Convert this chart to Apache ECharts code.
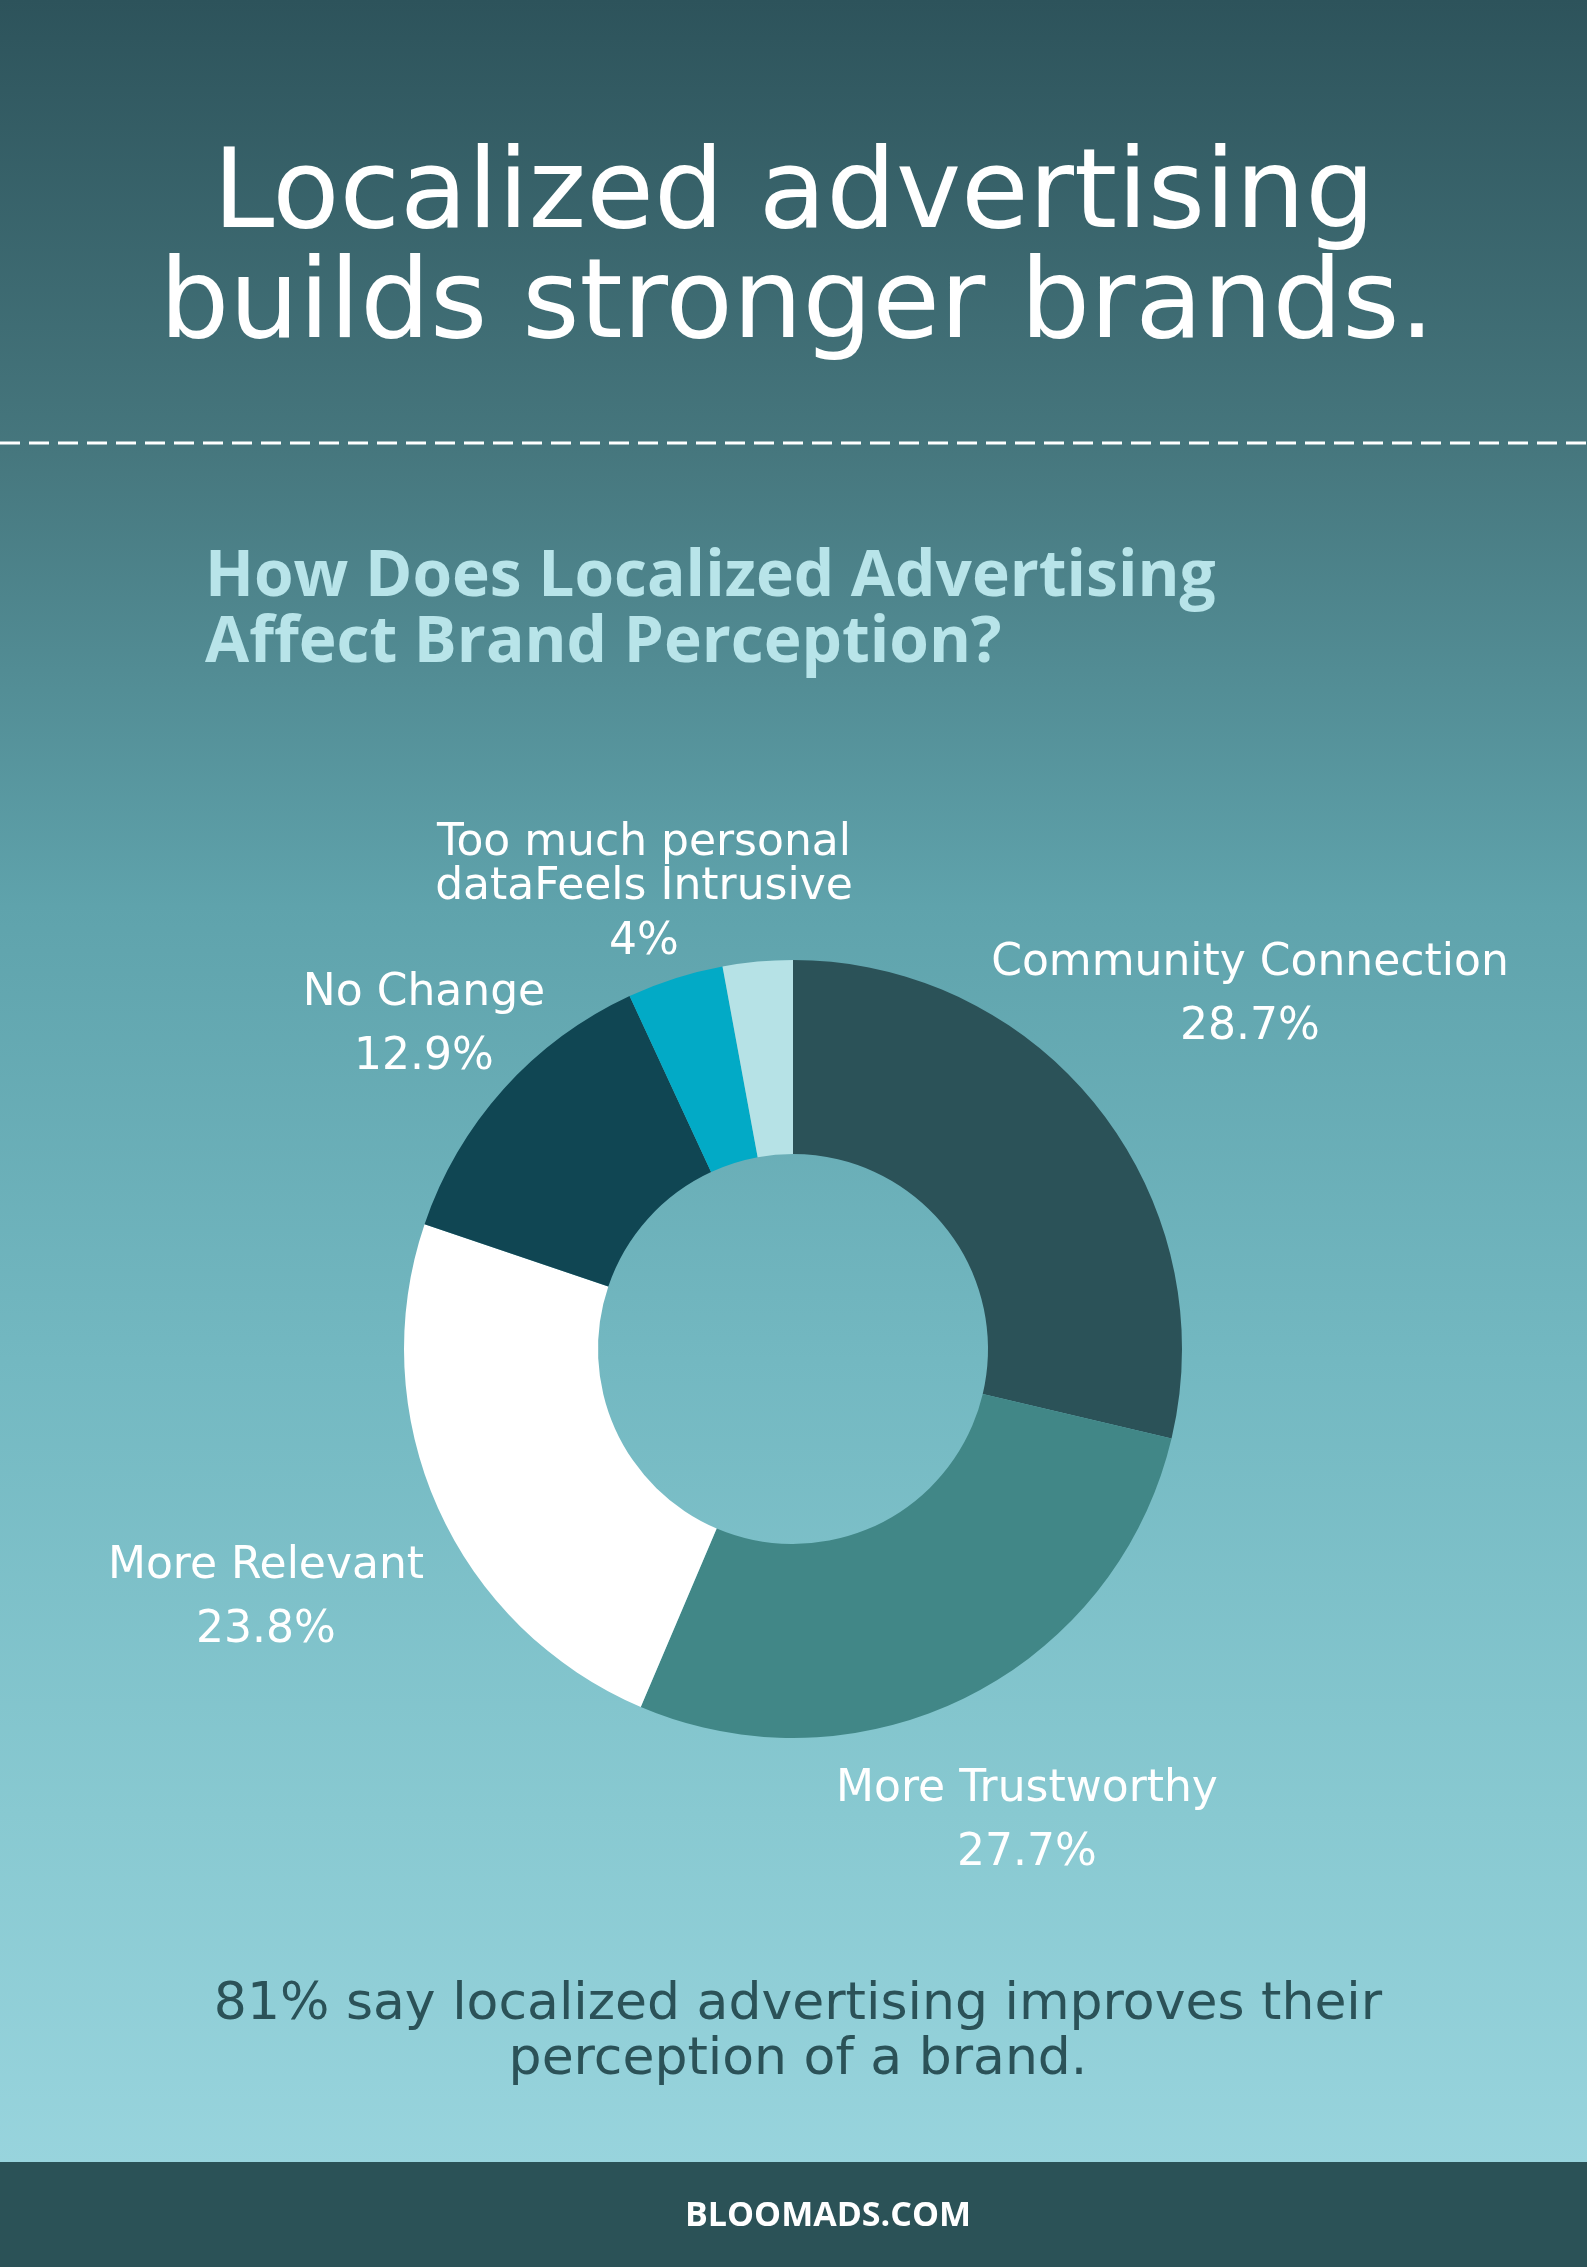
<!DOCTYPE html>
<html>
<head>
<meta charset="utf-8">
<script src="https://cdn.jsdelivr.net/npm/echarts@6/dist/echarts.min.js"></script>
<style>
  html, body { margin: 0; padding: 0; }
  #chart { width: 1587px; height: 2267px; }
</style>
</head>
<body>
<div id="chart"></div>
<script>
// ---- data ----
const headline = ['Localized advertising', 'builds stronger brands.'];
const subtitle = ['How Does Localized Advertising', 'Affect Brand Perception?'];
const categories = ['Community Connection', 'More Trustworthy', 'More Relevant', 'No Change', 'Too much personal\ndataFeels Intrusive', 'Other'];
const values = [28.7, 27.7, 23.8, 12.9, 4, 2.9];
const showLabel = [true, true, true, true, true, false];
const footnote = ['81% say localized advertising improves their', 'perception of a brand.'];
const footer = 'BLOOMADS.COM';

// ---- styles ----
const sliceColors = ['#2b5258', '#418787', '#ffffff', '#104653', '#02aac6', '#b6e2e6'];
const labelPos = [[1250, 932], [1027, 1758], [266, 1535], [424, 962], [644, 822], [0, 0]];
const LABEL_FONT = 'DejaVu Sans';
const LABEL_SIZE = 44;

const chart = echarts.init(document.getElementById('chart'), null, { renderer: 'canvas' });

const pieData = categories.map((c, i) => {
  const item = { name: c, value: values[i], itemStyle: { color: sliceColors[i] } };
  if (!showLabel[i]) item.label = { show: false };
  if (i === 4) {
    item.label = {
      rich: {
        n: { fontSize: LABEL_SIZE, lineHeight: 44, color: '#fff', fontFamily: LABEL_FONT },
        p: { fontSize: LABEL_SIZE, lineHeight: 66, color: '#fff', fontFamily: LABEL_FONT }
      }
    };
  }
  return item;
});

const option = {
  backgroundColor: 'transparent',
  animation: false,
  graphic: [
    { type: 'rect', z: -10, silent: true, shape: { x: 0, y: 0, width: 1587, height: 2267 },
      style: { fill: { type: 'linear', x: 0, y: 0, x2: 0, y2: 1, colorStops: [
        { offset: 0, color: '#2d535b' },
        { offset: 0.2, color: '#46777e' },
        { offset: 0.4, color: '#5fa3ac' },
        { offset: 0.6, color: '#73b8c1' },
        { offset: 0.8, color: '#88c9d1' },
        { offset: 0.955, color: '#98d4dd' },
        { offset: 1, color: '#9ad5de' }
      ] } } },
    { type: 'line', silent: true, shape: { x1: 0, y1: 443, x2: 1587, y2: 443 },
      style: { stroke: '#ffffff', lineWidth: 3, lineDash: [20, 9] } },
    { type: 'text', silent: true, x: 794, y: 198,
      style: { text: headline[0], fill: '#ffffff', fontSize: 110, fontFamily: 'DejaVu Sans', align: 'center', verticalAlign: 'middle' } },
    { type: 'text', silent: true, x: 797, y: 308,
      style: { text: headline[1], fill: '#ffffff', fontSize: 110, fontFamily: 'DejaVu Sans', align: 'center', verticalAlign: 'middle' } },
    { type: 'text', silent: true, x: 205, y: 578,
      style: { text: subtitle[0], fill: '#b8e4e9', fontSize: 64, fontWeight: 'bold', fontFamily: 'Open Sans', align: 'left', verticalAlign: 'middle' } },
    { type: 'text', silent: true, x: 205, y: 644,
      style: { text: subtitle[1], fill: '#b8e4e9', fontSize: 64, fontWeight: 'bold', fontFamily: 'Open Sans', align: 'left', verticalAlign: 'middle' } },
    { type: 'text', silent: true, x: 798, y: 2005,
      style: { text: footnote[0], fill: '#2b5258', fontSize: 52, fontFamily: 'DejaVu Sans', align: 'center', verticalAlign: 'middle' } },
    { type: 'text', silent: true, x: 798, y: 2060,
      style: { text: footnote[1], fill: '#2b5258', fontSize: 52, fontFamily: 'DejaVu Sans', align: 'center', verticalAlign: 'middle' } },
    { type: 'rect', silent: true, shape: { x: 0, y: 2162, width: 1587, height: 105 },
      style: { fill: '#2b5257' } },
    { type: 'text', silent: true, x: 828, y: 2216,
      style: { text: footer, fill: '#ffffff', fontSize: 34, fontWeight: 'bold', fontFamily: 'Open Sans', align: 'center', verticalAlign: 'middle' } }
  ],
  series: [{
    type: 'pie',
    center: [793, 1349],
    radius: [195, 389],
    startAngle: 90,
    clockwise: true,
    avoidLabelOverlap: false,
    itemStyle: { borderWidth: 0 },
    emphasis: { disabled: true },
    label: {
      show: true,
      position: 'outside',
      color: '#ffffff',
      fontSize: LABEL_SIZE,
      fontFamily: LABEL_FONT,
      lineHeight: 64,
      align: 'center',
      formatter: function (p) { return '{n|' + p.name.split('\n').join('}\n{n|') + '}\n{p|' + p.value + '%}'; },
      rich: {
        n: { fontSize: LABEL_SIZE, lineHeight: 64, color: '#fff', fontFamily: LABEL_FONT },
        p: { fontSize: LABEL_SIZE, lineHeight: 64, color: '#fff', fontFamily: LABEL_FONT }
      }
    },
    labelLine: { show: false },
    labelLayout: function (params) {
      const pos = labelPos[params.dataIndex];
      return { x: pos[0], y: pos[1], align: 'center', verticalAlign: 'top' };
    },
    data: pieData
  }]
};
chart.setOption(option);
</script>
</body>
</html>
